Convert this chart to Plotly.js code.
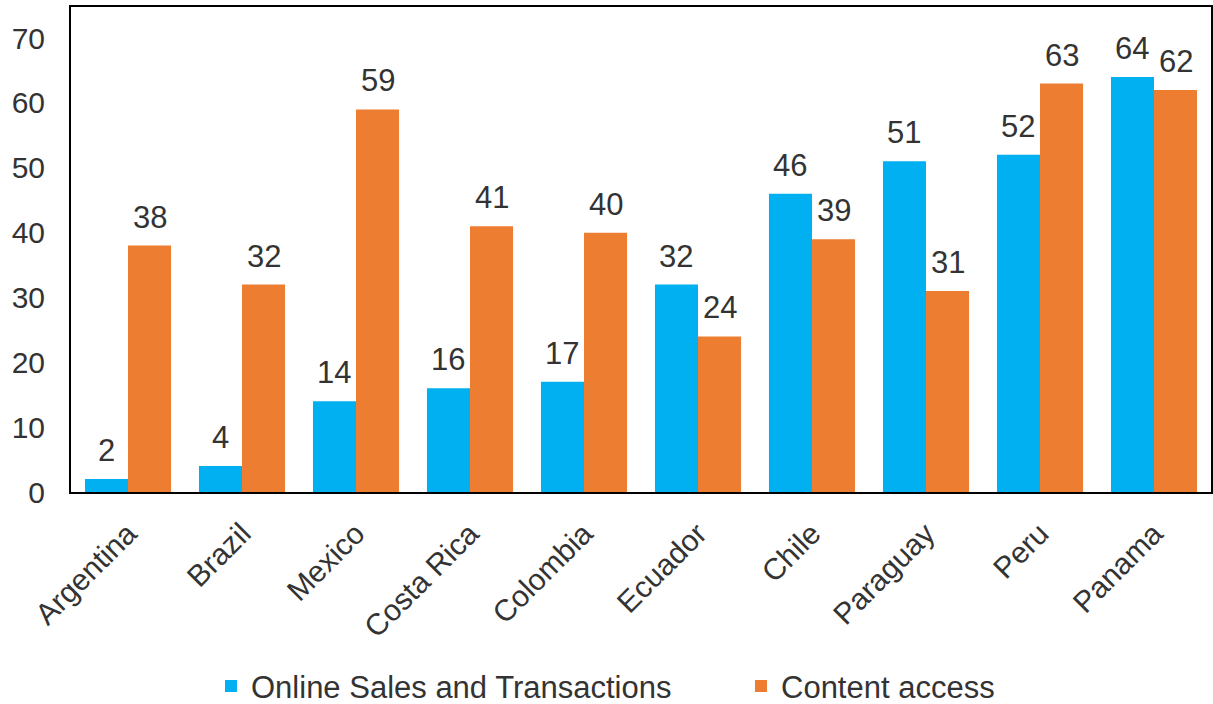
<!DOCTYPE html>
<html>
<head>
<meta charset="utf-8">
<script src="https://cdn.plot.ly/plotly-3.0.1.min.js"></script>
<style>
  html, body { margin: 0; padding: 0; background: #fff; }
  #chart { width: 1213px; height: 704px; }
</style>
</head>
<body>
<div id="chart"></div>
<script>
const countries = ["Argentina", "Brazil", "Mexico", "Costa Rica", "Colombia", "Ecuador", "Chile", "Paraguay", "Peru", "Panama"];
const onlineSales = [2, 4, 14, 16, 17, 32, 46, 51, 52, 64];
const contentAccess = [38, 32, 59, 41, 40, 24, 39, 31, 63, 62];
const seriesNames = ["Online Sales and Transactions", "Content access"];
const yTicks = [0, 10, 20, 30, 40, 50, 60, 70];

const BLUE = "#00B0F0";
const ORANGE = "#ED7D31";
const TEXT = "#333333";
const FONT = "Liberation Sans, Arial, sans-serif";

// each series gets its own legend box so the two entries can be spaced freely
const traces = [
  { type: "bar", name: seriesNames[0], x: countries, y: onlineSales,
    marker: { color: BLUE }, hoverinfo: "x+y", legend: "legend" },
  { type: "bar", name: seriesNames[1], x: countries, y: contentAccess,
    marker: { color: ORANGE }, hoverinfo: "x+y", legend: "legend2" }
];

// value labels sit a little above each bar
const bargap = 0.245;
const half = (1 - bargap) / 4;
const labelFont = { family: FONT, size: 31, color: TEXT };
const annotations = [];
countries.forEach((c, i) => {
  annotations.push({ x: i - half, y: onlineSales[i], xref: "x", yref: "y",
    text: String(onlineSales[i]), showarrow: false, yanchor: "bottom", yshift: 9,
    font: labelFont });
  annotations.push({ x: i + half, y: contentAccess[i], xref: "x", yref: "y",
    text: String(contentAccess[i]), showarrow: false, yanchor: "bottom", yshift: 9,
    font: labelFont });
});

const legendBase = {
  orientation: "h", xref: "container", xanchor: "left",
  yref: "container", y: 0.025, yanchor: "middle",
  font: { family: FONT, size: 31, color: TEXT }, itemwidth: 30, bgcolor: "rgba(0,0,0,0)"
};

const layout = {
  width: 1213, height: 704,
  margin: { l: 71, r: 2, t: 7, b: 212 },
  paper_bgcolor: "#fff", plot_bgcolor: "#fff",
  font: { family: FONT, size: 30, color: TEXT },
  barmode: "group", bargap: bargap, bargroupgap: 0,
  showlegend: true,
  legend: Object.assign({}, legendBase, { x: 211 / 1213 }),
  legend2: Object.assign({}, legendBase, { x: 741 / 1213 }),
  xaxis: { type: "category", showline: true, linecolor: "#000", linewidth: 2, mirror: true,
    tickangle: -45, ticks: "", ticklabelstandoff: 10,
    tickfont: { family: FONT, size: 30, color: TEXT },
    range: [-0.5, countries.length - 0.5] },
  yaxis: { range: [0, 74.8], tickvals: yTicks, ticktext: yTicks.map(String),
    showgrid: false, zeroline: false, showline: true, linecolor: "#000", linewidth: 2, mirror: true,
    ticks: "", ticklabelstandoff: 18, tickfont: { family: FONT, size: 30, color: TEXT } },
  annotations: annotations
};

Plotly.newPlot("chart", traces, layout, { displayModeBar: false, staticPlot: true });
</script>
</body>
</html>
